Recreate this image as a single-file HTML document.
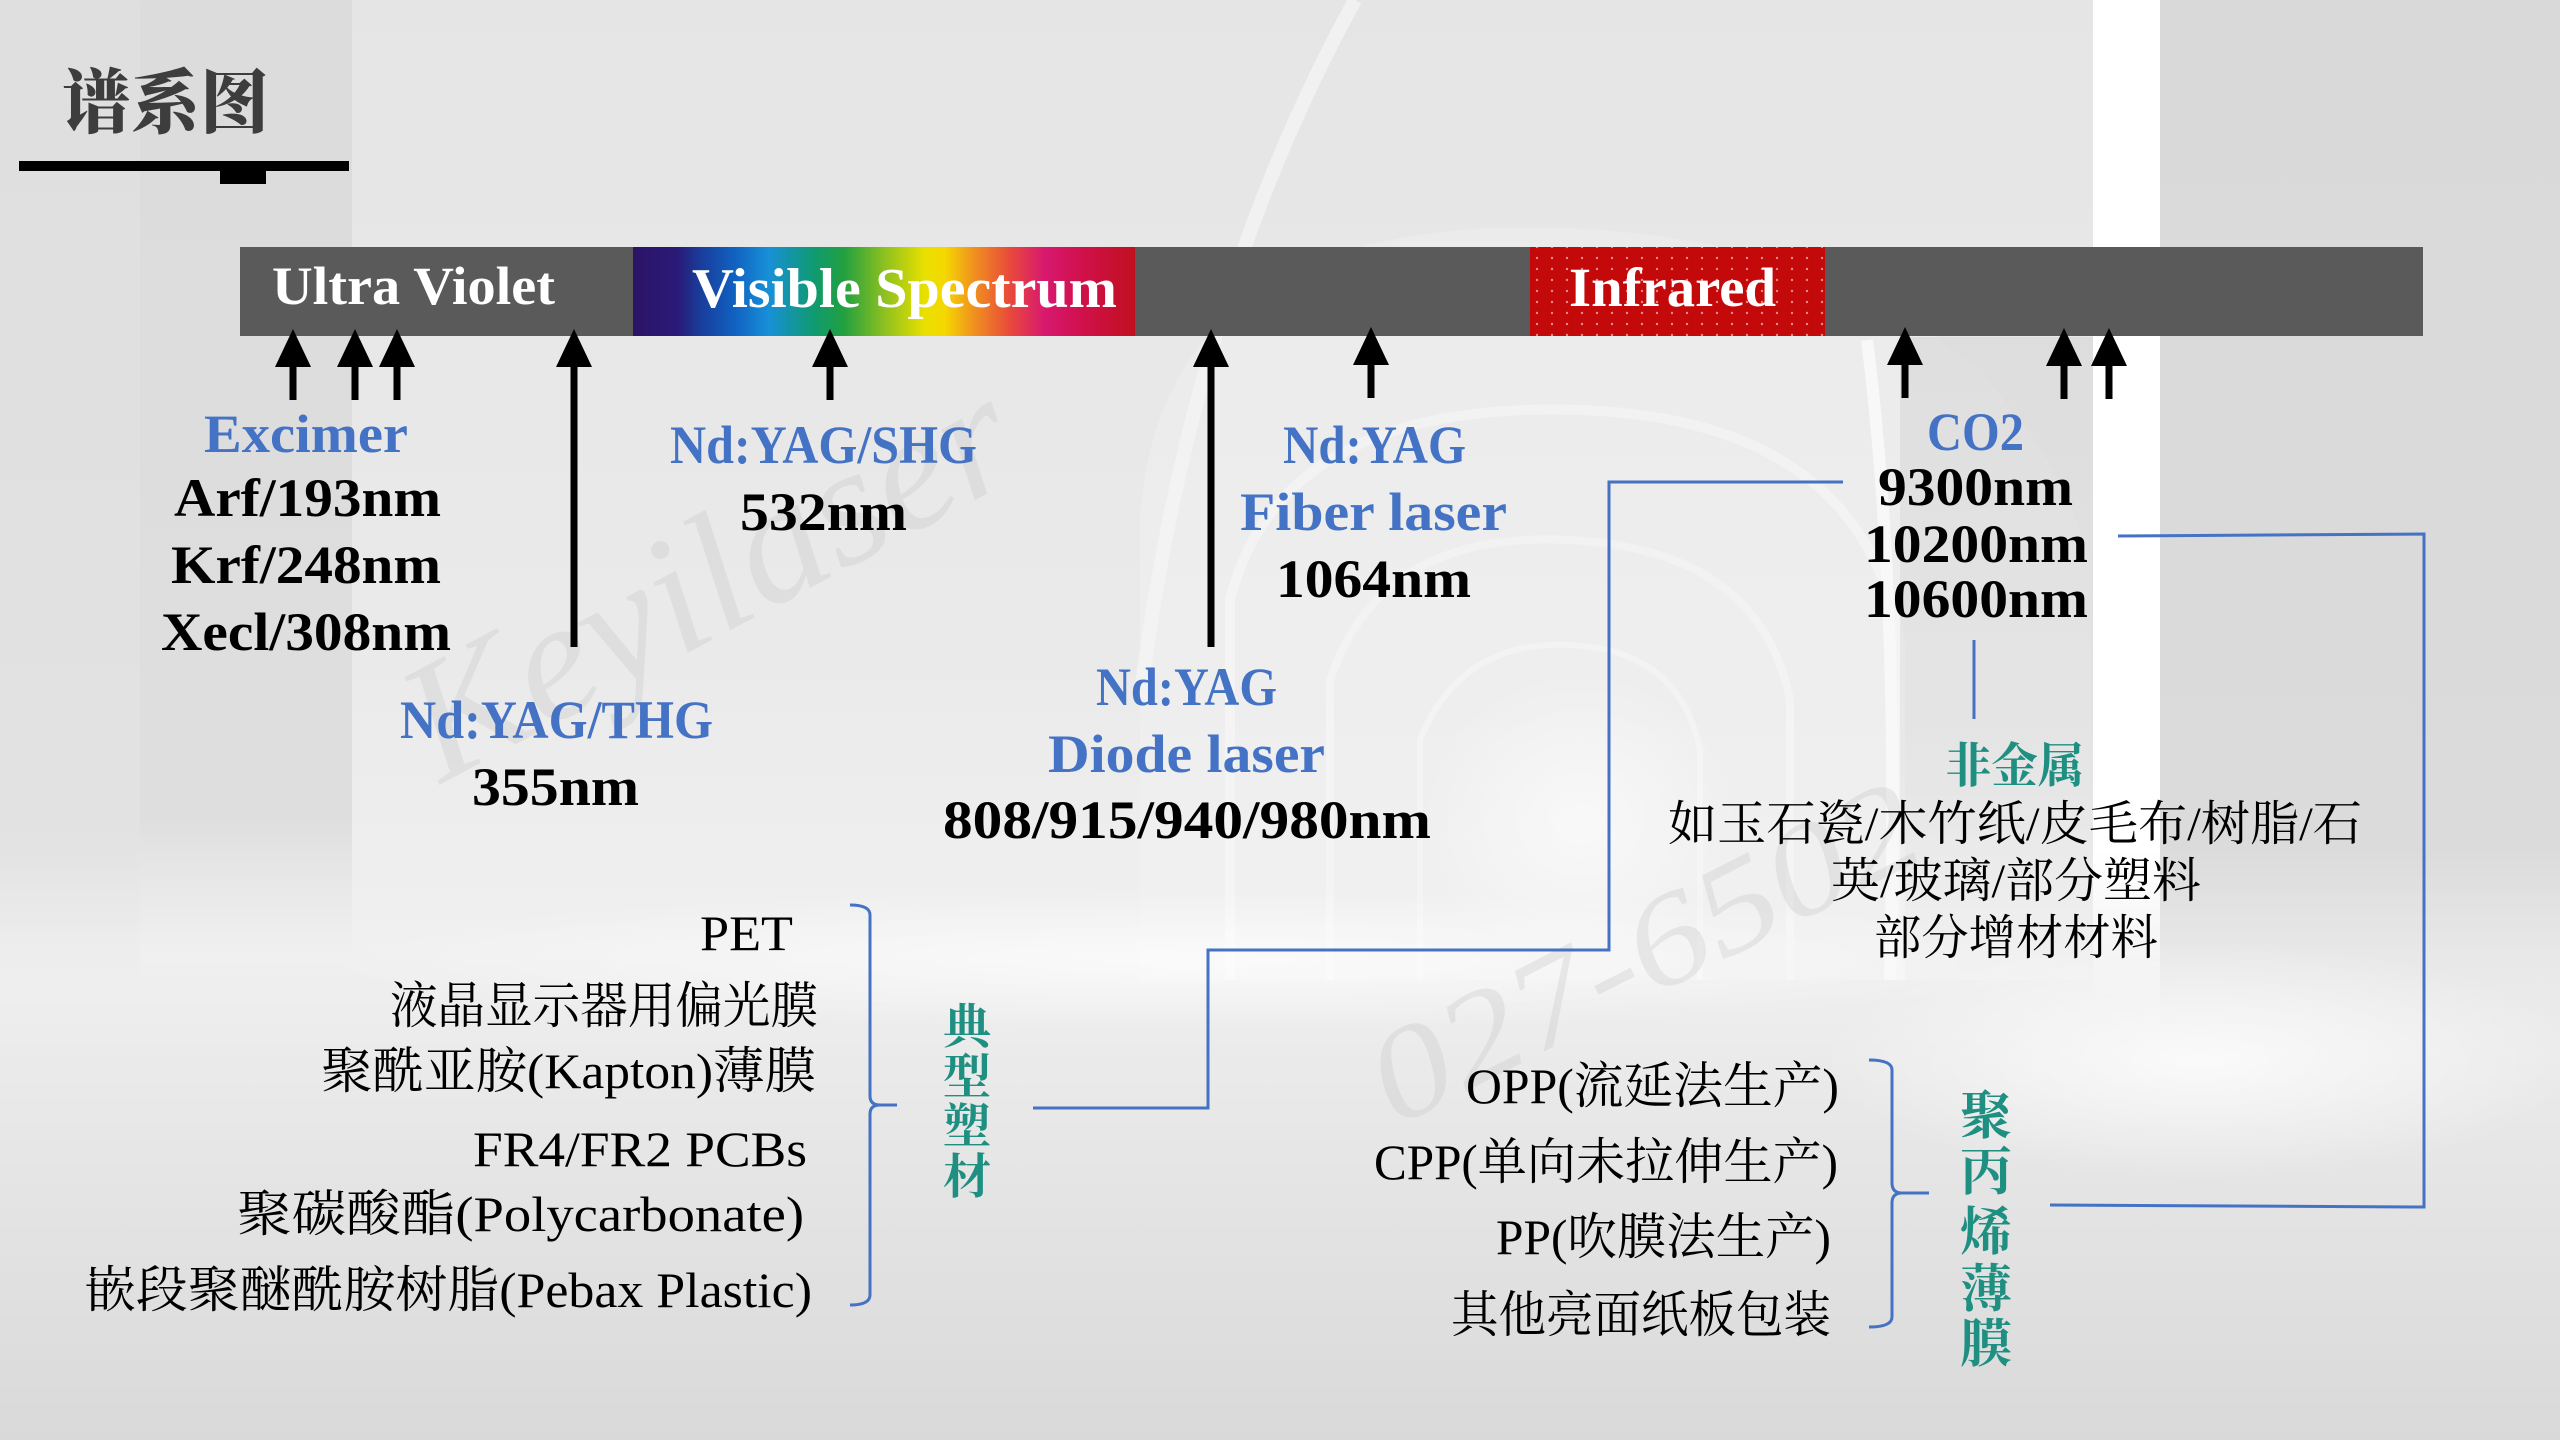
<!DOCTYPE html>
<html><head><meta charset="utf-8"><style>
html,body{margin:0;padding:0;background:#e6e6e6;}
svg{display:block;}
</style></head><body>
<svg xmlns="http://www.w3.org/2000/svg" width="2560" height="1440" viewBox="0 0 2560 1440">
<defs>
  <linearGradient id="bg" x1="0" y1="0" x2="0" y2="1">
    <stop offset="0" stop-color="#e5e5e5"/>
    <stop offset="0.45" stop-color="#eaeaea"/>
    <stop offset="0.66" stop-color="#f0f0f0"/>
    <stop offset="0.8" stop-color="#e6e6e6"/>
    <stop offset="1" stop-color="#d9d9d9"/>
  </linearGradient>
  <linearGradient id="leftcol" x1="0" y1="0" x2="0" y2="1">
    <stop offset="0" stop-color="#dcdcdc"/>
    <stop offset="0.85" stop-color="#dedede"/>
    <stop offset="1" stop-color="#e6e6e6" stop-opacity="0"/>
  </linearGradient>
  <linearGradient id="rightcol" x1="0" y1="0" x2="0" y2="1">
    <stop offset="0" stop-color="#d9d9d9"/>
    <stop offset="0.8" stop-color="#dbdbdb"/>
    <stop offset="1" stop-color="#e4e4e4" stop-opacity="0"/>
  </linearGradient>
  <linearGradient id="inner" x1="0" y1="0" x2="0" y2="1">
    <stop offset="0" stop-color="#d6d6d6" stop-opacity="0.6"/>
    <stop offset="0.7" stop-color="#d8d8d8" stop-opacity="0.4"/>
    <stop offset="1" stop-color="#e0e0e0" stop-opacity="0"/>
  </linearGradient>
  <linearGradient id="band" x1="0" y1="0" x2="0" y2="1">
    <stop offset="0" stop-color="#ffffff"/>
    <stop offset="0.85" stop-color="#ffffff"/>
    <stop offset="1" stop-color="#ffffff" stop-opacity="0"/>
  </linearGradient>
  <radialGradient id="glow" cx="0.5" cy="0.5" r="0.5">
    <stop offset="0" stop-color="#ffffff" stop-opacity="0.85"/>
    <stop offset="1" stop-color="#ffffff" stop-opacity="0"/>
  </radialGradient>
  <linearGradient id="archfill" x1="0" y1="0" x2="0" y2="1">
    <stop offset="0" stop-color="#ececec"/>
    <stop offset="1" stop-color="#f1f1f1"/>
  </linearGradient>
  <linearGradient id="spec" x1="0" y1="0" x2="1" y2="0">
    <stop offset="0" stop-color="#2b1466"/>
    <stop offset="0.09" stop-color="#2a1a78"/>
    <stop offset="0.13" stop-color="#1a3a98"/>
    <stop offset="0.2" stop-color="#1060c0"/>
    <stop offset="0.27" stop-color="#1890d8"/>
    <stop offset="0.36" stop-color="#0f9a70"/>
    <stop offset="0.42" stop-color="#22a040"/>
    <stop offset="0.5" stop-color="#8cc020"/>
    <stop offset="0.58" stop-color="#e8e000"/>
    <stop offset="0.62" stop-color="#f5d800"/>
    <stop offset="0.68" stop-color="#f09020"/>
    <stop offset="0.75" stop-color="#e84a3a"/>
    <stop offset="0.82" stop-color="#d81870"/>
    <stop offset="0.9" stop-color="#d01048"/>
    <stop offset="1" stop-color="#c01020"/>
  </linearGradient>
  <pattern id="dots" width="15" height="11" patternUnits="userSpaceOnUse">
    <rect width="15" height="11" fill="#c30909"/>
    <circle cx="7" cy="5" r="1.2" fill="#ee8888"/>
  </pattern>
</defs>

<!-- background -->
<rect x="0" y="0" width="2560" height="1440" fill="url(#bg)"/>
<rect x="0" y="0" width="140" height="1000" fill="url(#leftcol)" opacity="0.7"/>
<rect x="140" y="0" width="212" height="960" fill="url(#leftcol)"/>
<!-- arches -->
<path d="M1140,980 L1140,520 Q1160,200 1600,230 Q2000,260 2090,560 L2090,980 Z" fill="url(#archfill)" opacity="0.8"/>
<path d="M1355,0 Q1190,300 1140,700" fill="none" stroke="#f4f4f4" stroke-width="14" opacity="0.8"/>
<path d="M1230,980 L1230,600 Q1280,400 1580,410 Q1860,420 1900,640 L1900,980" fill="none" stroke="#ffffff" stroke-width="10" opacity="0.35"/>
<path d="M1330,980 L1330,680 Q1380,530 1570,540 Q1760,550 1790,700 L1790,980" fill="none" stroke="#ffffff" stroke-width="8" opacity="0.3"/>
<path d="M1420,980 L1420,740 Q1460,640 1570,645 Q1680,650 1700,750 L1700,980" fill="none" stroke="#ffffff" stroke-width="6" opacity="0.3"/>
<ellipse cx="1580" cy="820" rx="160" ry="150" fill="url(#glow)" opacity="0.7"/>
<rect x="1900" y="337" width="193" height="640" fill="url(#inner)"/>
<path d="M1867,340 Q1900,600 1890,980" fill="none" stroke="#f8f8f8" stroke-width="12"/>
<rect x="2160" y="0" width="400" height="1060" fill="url(#rightcol)"/>
<rect x="2093" y="0" width="67" height="1000" fill="url(#band)"/>
<ellipse cx="1200" cy="960" rx="900" ry="70" fill="url(#glow)" opacity="0.8"/>
<ellipse cx="2200" cy="1060" rx="380" ry="120" fill="url(#glow)" opacity="0.9"/>

<!-- watermarks -->
<text x="441" y="784" transform="rotate(-28 441 784)" font-family="'Liberation Serif',serif" font-style="italic" font-size="170" fill="#c4c4c4" opacity="0.3" textLength="665" lengthAdjust="spacingAndGlyphs">Keyilaser</text>
<text x="1396" y="1127" transform="rotate(-27 1396 1127)" font-family="'Liberation Serif',serif" font-style="italic" font-size="130" fill="#c4c4c4" opacity="0.3" textLength="600" lengthAdjust="spacingAndGlyphs">027-6502</text>

<!-- title -->
<text x="62" y="127" font-family="'Noto Serif CJK SC','Noto Sans CJK SC',serif" font-weight="900" font-size="70" fill="#3d3d3d" textLength="207" lengthAdjust="spacingAndGlyphs">谱系图</text>
<rect x="19" y="161" width="330" height="10" fill="#000"/>
<rect x="220" y="170" width="46" height="14" fill="#000"/>

<!-- bar -->
<rect x="240" y="247" width="2183" height="89" fill="#5a5a5a"/>
<rect x="633" y="247" width="502" height="89" fill="url(#spec)"/>
<rect x="1530" y="247" width="295" height="89" fill="url(#dots)"/>
<g font-family="'Liberation Serif',serif" font-weight="bold" fill="#ffffff">
  <text x="272" y="304" font-size="54" textLength="283" lengthAdjust="spacingAndGlyphs">Ultra Violet</text>
  <text x="692" y="307" font-size="56" textLength="425" lengthAdjust="spacingAndGlyphs">Visible Spectrum</text>
  <text x="1569" y="306" font-size="55" textLength="207" lengthAdjust="spacingAndGlyphs">Infrared</text>
</g>

<!-- arrows -->
<g fill="#000">
  <path d="M293,329 L311,367 L296.5,367 L296.5,400 L289.5,400 L289.5,367 L275,367 Z"/>
  <path d="M355,329 L373,367 L358.5,367 L358.5,400 L351.5,400 L351.5,367 L337,367 Z"/>
  <path d="M397,329 L415,367 L400.5,367 L400.5,400 L393.5,400 L393.5,367 L379,367 Z"/>
  <path d="M574,329 L592,367 L577.5,367 L577.5,647 L570.5,647 L570.5,367 L556,367 Z"/>
  <path d="M830,329 L848,367 L833.5,367 L833.5,400 L826.5,400 L826.5,367 L812,367 Z"/>
  <path d="M1211,329 L1229,367 L1214.5,367 L1214.5,647 L1207.5,647 L1207.5,367 L1193,367 Z"/>
  <path d="M1371,327 L1389,365 L1374.5,365 L1374.5,398 L1367.5,398 L1367.5,365 L1353,365 Z"/>
  <path d="M1905,327 L1923,365 L1908.5,365 L1908.5,398 L1901.5,398 L1901.5,365 L1887,365 Z"/>
  <path d="M2064,328 L2082,366 L2067.5,366 L2067.5,399 L2060.5,399 L2060.5,366 L2046,366 Z"/>
  <path d="M2109,328 L2127,366 L2112.5,366 L2112.5,399 L2105.5,399 L2105.5,366 L2091,366 Z"/>
</g>

<!-- laser labels -->
<g font-family="'Liberation Serif',serif" font-weight="bold" font-size="54">
  <text x="204" y="452" fill="#4472c4" textLength="204" lengthAdjust="spacingAndGlyphs">Excimer</text>
  <text x="174" y="516" fill="#000" textLength="267" lengthAdjust="spacingAndGlyphs">Arf/193nm</text>
  <text x="171" y="583" fill="#000" textLength="270" lengthAdjust="spacingAndGlyphs">Krf/248nm</text>
  <text x="161" y="650" fill="#000" textLength="290" lengthAdjust="spacingAndGlyphs">Xecl/308nm</text>

  <text x="670" y="463" fill="#4472c4" textLength="307" lengthAdjust="spacingAndGlyphs">Nd:YAG/SHG</text>
  <text x="740" y="530" fill="#000" textLength="167" lengthAdjust="spacingAndGlyphs">532nm</text>

  <text x="400" y="738" fill="#4472c4" textLength="313" lengthAdjust="spacingAndGlyphs">Nd:YAG/THG</text>
  <text x="472" y="805" fill="#000" textLength="167" lengthAdjust="spacingAndGlyphs">355nm</text>

  <text x="1283" y="463" fill="#4472c4" textLength="183" lengthAdjust="spacingAndGlyphs">Nd:YAG</text>
  <text x="1240" y="530" fill="#4472c4" textLength="267" lengthAdjust="spacingAndGlyphs">Fiber laser</text>
  <text x="1276" y="597" fill="#000" textLength="195" lengthAdjust="spacingAndGlyphs">1064nm</text>

  <text x="1096" y="705" fill="#4472c4" textLength="181" lengthAdjust="spacingAndGlyphs">Nd:YAG</text>
  <text x="1048" y="772" fill="#4472c4" textLength="277" lengthAdjust="spacingAndGlyphs">Diode laser</text>
  <text x="943" y="838" fill="#000" textLength="488" lengthAdjust="spacingAndGlyphs">808/915/940/980nm</text>

  <text x="1927" y="450" fill="#4472c4" textLength="97" lengthAdjust="spacingAndGlyphs">CO2</text>
  <text x="1878" y="505" fill="#000" textLength="195" lengthAdjust="spacingAndGlyphs">9300nm</text>
  <text x="1864" y="562" fill="#000" textLength="224" lengthAdjust="spacingAndGlyphs">10200nm</text>
  <text x="1864" y="617" fill="#000" textLength="224" lengthAdjust="spacingAndGlyphs">10600nm</text>
</g>

<!-- connectors -->
<g fill="none" stroke="#4472c4" stroke-width="3">
  <path d="M1033,1108 H1208 V950 H1609 V482 H1843"/>
  <path d="M2118,536 L2424,534 V1207 L2050,1205"/>
  <path d="M1974,640 V719"/>
  <path d="M850,905 Q870,905 870,915 V1096 Q870,1105 880,1105 H897 M880,1105 Q870,1105 870,1114 V1295 Q870,1305 850,1305"/>
  <path d="M1869,1060 Q1892,1060 1892,1070 V1183 Q1892,1193 1902,1193 H1929 M1902,1193 Q1892,1193 1892,1203 V1317 Q1892,1327 1869,1327"/>
</g>

<!-- non-metal -->
<g font-family="'Liberation Serif','Noto Serif CJK SC',serif">
  <text x="1945" y="782" font-size="48" font-weight="bold" fill="#1f8f82" textLength="139" lengthAdjust="spacingAndGlyphs">非金属</text>
  <text x="1668" y="840" font-size="48" fill="#000" textLength="694" lengthAdjust="spacingAndGlyphs">如玉石瓷/木竹纸/皮毛布/树脂/石</text>
  <text x="1831" y="897" font-size="48" fill="#000" textLength="370" lengthAdjust="spacingAndGlyphs">英/玻璃/部分塑料</text>
  <text x="1874" y="954" font-size="48" fill="#000" textLength="284" lengthAdjust="spacingAndGlyphs">部分增材材料</text>
</g>

<!-- left list -->
<g font-family="'Liberation Serif','Noto Serif CJK SC',serif" font-size="50" fill="#000">
  <text x="700" y="950" textLength="93" lengthAdjust="spacingAndGlyphs">PET</text>
  <text x="390" y="1023" textLength="428" lengthAdjust="spacingAndGlyphs">液晶显示器用偏光膜</text>
  <text x="321" y="1088" textLength="495" lengthAdjust="spacingAndGlyphs">聚酰亚胺(Kapton)薄膜</text>
  <text x="473" y="1166" textLength="334" lengthAdjust="spacingAndGlyphs">FR4/FR2 PCBs</text>
  <text x="237" y="1231" textLength="567" lengthAdjust="spacingAndGlyphs">聚碳酸酯(Polycarbonate)</text>
  <text x="84" y="1307" textLength="728" lengthAdjust="spacingAndGlyphs">嵌段聚醚酰胺树脂(Pebax Plastic)</text>
</g>

<!-- right list -->
<g font-family="'Liberation Serif','Noto Serif CJK SC',serif" font-size="50" fill="#000">
  <text x="1466" y="1103" textLength="373" lengthAdjust="spacingAndGlyphs">OPP(流延法生产)</text>
  <text x="1374" y="1179" textLength="464" lengthAdjust="spacingAndGlyphs">CPP(单向未拉伸生产)</text>
  <text x="1496" y="1254" textLength="335" lengthAdjust="spacingAndGlyphs">PP(吹膜法生产)</text>
  <text x="1451" y="1332" textLength="380" lengthAdjust="spacingAndGlyphs">其他亮面纸板包装</text>
</g>

<!-- vertical teal labels -->
<g font-family="'Noto Serif CJK SC','Noto Sans CJK SC',serif" font-weight="bold" fill="#1f8f82" text-anchor="middle">
  <text x="967" y="1043" font-size="48">典</text>
  <text x="967" y="1093" font-size="48">型</text>
  <text x="967" y="1143" font-size="48">塑</text>
  <text x="967" y="1193" font-size="48">材</text>
  <text x="1986" y="1134" font-size="52">聚</text>
  <text x="1986" y="1190" font-size="52">丙</text>
  <text x="1986" y="1250" font-size="52">烯</text>
  <text x="1986" y="1307" font-size="52">薄</text>
  <text x="1986" y="1362" font-size="52">膜</text>
</g>
</svg>
</body></html>
